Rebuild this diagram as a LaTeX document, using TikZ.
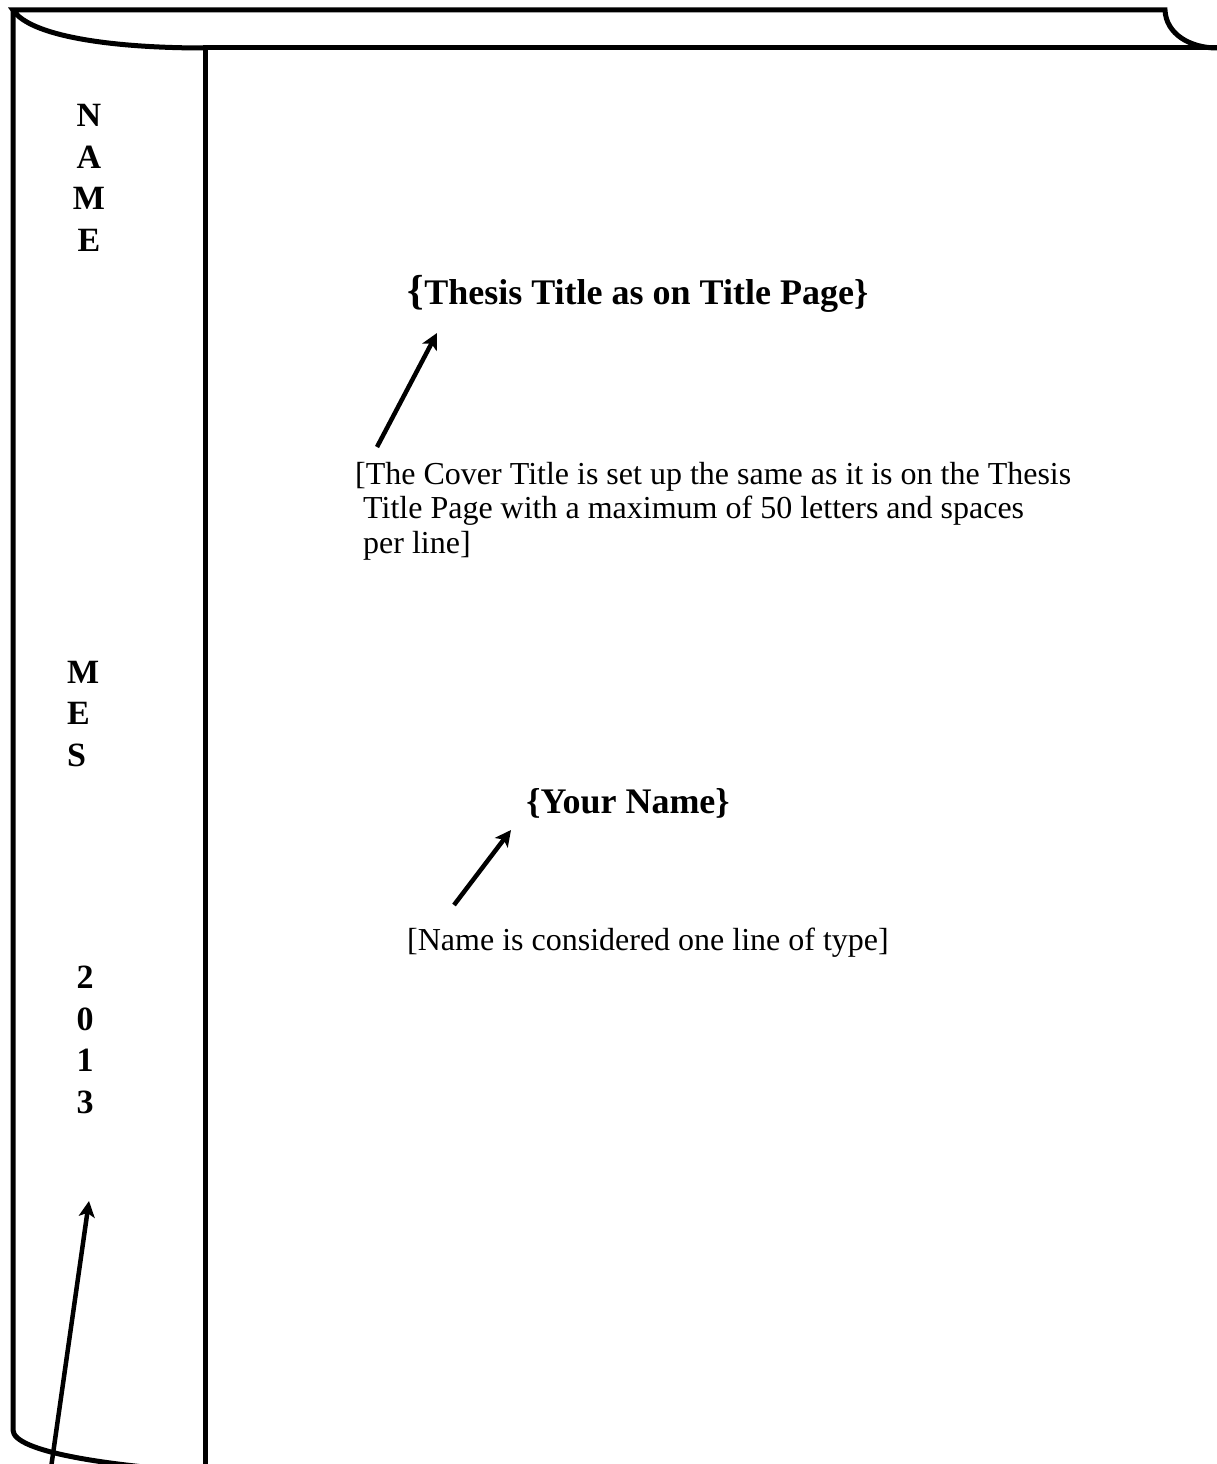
\documentclass[tikz,border=0pt]{standalone}
\usepackage{fontspec}
\setmainfont{Liberation Serif}
\usetikzlibrary{arrows.meta}
\begin{document}
\begin{tikzpicture}
[x=1pt,y=-1pt,
  coverline/.style={line width=5pt},
  spinetext/.style={align=center,inner sep=0pt,font=\bfseries\fontsize{34}{41.5}\selectfont},
  headtext/.style={inner sep=0pt,anchor=base,font=\bfseries\fontsize{36}{40}\selectfont},
  notetext/.style={align=left,inner sep=0pt,font=\fontsize{32}{34.5}\selectfont},
  arrowdecorate/.style={-{Stealth[length=16pt,width=16pt,inset=4pt]},line width=4.5pt}]
\useasboundingbox (0,0) rectangle (1217,1464);
% cover outline
\draw[coverline] (205,1475) -- (205,48) -- (1217,48);
\draw[coverline] (205,48) .. controls (110,48) and (30,36) .. (13,10)
  -- (1165,10) .. controls (1166,34) and (1190,48) .. (1217,48);
\draw[coverline] (13,10) -- (13,1430) .. controls (13,1452) and (110,1466) .. (205,1472);
% spine
\node (name) at (89,178) [spinetext] {N\\A\\M\\E};
\node (degree) at (67,714) [spinetext,align=left,anchor=west] {M\\E\\S};
\node (year) at (85,1040) [spinetext] {2\\0\\1\\3};
% cover texts
\node (title) at (638,304) [headtext] {{\fontsize{42}{42}\selectfont\{}Thesis Title as on Title Page\}};
\node (titlenote) at (355,462) [notetext,anchor=north west] {[The Cover Title is set up the same as it is on the Thesis\\
\ Title Page with a maximum of 50 letters and spaces\\
\ per line]};
\node (yourname) at (628,813) [headtext] {\{Your Name\}};
\node (namenote) at (648,943) [notetext] {[Name is considered one line of type]};
% arrows
\coordinate (titletail) at (377,447);
\coordinate (titletip) at (437,333);
\coordinate (nametail) at (454,905);
\coordinate (nametip) at (511,830);
\coordinate (yeartail) at (50,1475);
\coordinate (yeartip) at (89,1201);
\draw[arrowdecorate] (titletail) -- (titletip);
\draw[arrowdecorate] (nametail) -- (nametip);
\draw[arrowdecorate] (yeartail) -- (yeartip);
\end{tikzpicture}
\end{document}
